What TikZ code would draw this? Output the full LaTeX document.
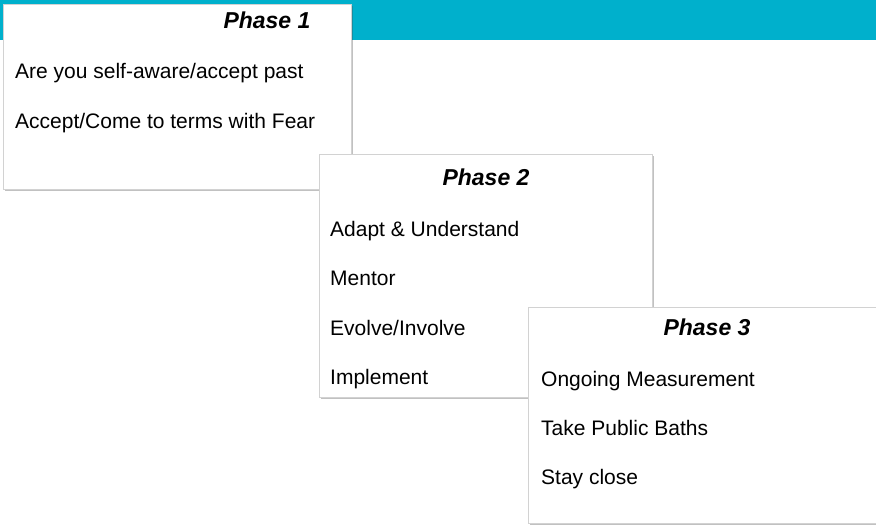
\documentclass[tikz,border=0pt]{standalone}
\usepackage{fontspec}
\setmainfont{Liberation Sans}
\usetikzlibrary{shadows}
\definecolor{barteal}{RGB}{0,176,204}
\definecolor{boxedge}{RGB}{210,210,210}
\tikzset{
  phasebox/.style={draw=boxedge, line width=0.5pt, fill=white, anchor=north west, inner sep=0pt,
    drop shadow={shadow xshift=1.8pt, shadow yshift=-2.2pt, opacity=0.35, fill=black!70}},
  itemtext/.style={anchor=base west, inner sep=0pt, font=\fontsize{21}{24}\selectfont, text=black},
  headtext/.style={anchor=base, inner sep=0pt, font=\fontsize{23}{27}\selectfont\bfseries\itshape, text=black}
}
\begin{document}
\begin{tikzpicture}[x=1pt,y=-1pt]
\useasboundingbox (0,0) rectangle (876,525);
\fill[barteal] (0,0) rectangle (876,40);
% Phase 1
\node[phasebox, minimum width=348pt, minimum height=185pt] (b1) at (3,4) {};
\node[headtext] (h1) at (267,28) {Phase 1};
\node[itemtext] (p1a) at (15,78) {Are you self-aware/accept past};
\node[itemtext] (p1b) at (15,128) {Accept/Come to terms with Fear};
% Phase 2
\node[phasebox, minimum width=333pt, minimum height=243pt] (b2) at (319,154) {};
\node[headtext] (h2) at (486,185) {Phase 2};
\node[itemtext] (p2a) at (330,236) {Adapt \& Understand};
\node[itemtext] (p2b) at (330,285) {Mentor};
\node[itemtext] (p2c) at (330,335) {Evolve/Involve};
\node[itemtext] (p2d) at (330,384) {Implement};
% Phase 3
\node[phasebox, minimum width=360pt, minimum height=216pt] (b3) at (528,307) {};
\node[headtext] (h3) at (707,335) {Phase 3};
\node[itemtext] (p3a) at (541,386) {Ongoing Measurement};
\node[itemtext] (p3b) at (541,435) {Take Public Baths};
\node[itemtext] (p3c) at (541,484) {Stay close};
\end{tikzpicture}
\end{document}
